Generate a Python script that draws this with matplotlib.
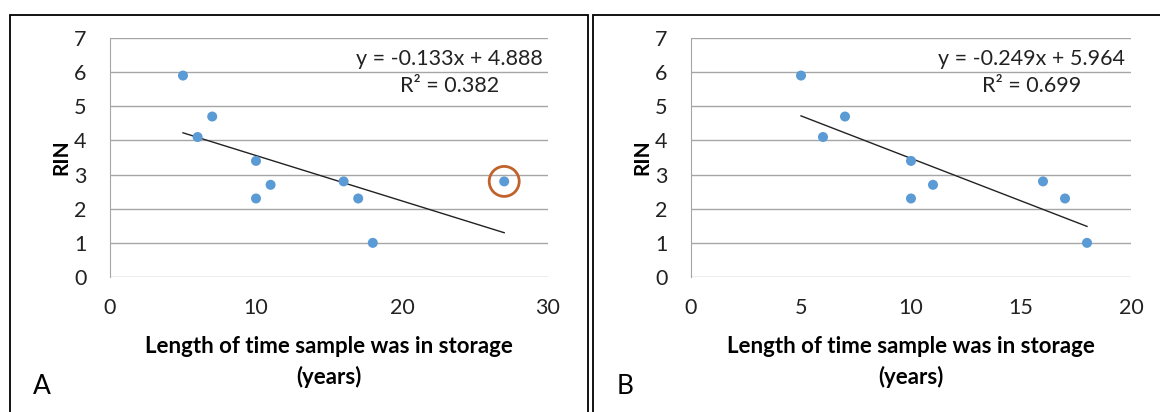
import numpy as np
import matplotlib
matplotlib.use("Agg")
import matplotlib.pyplot as plt
from matplotlib.patches import Rectangle, Ellipse

plt.rcParams["font.family"] = ["Lato", "DejaVu Sans"]

# ---------------- data ----------------
years = [5, 6, 7, 10, 10, 11, 16, 17, 18, 27]
rin = [5.9, 4.1, 4.7, 3.4, 2.3, 2.7, 2.8, 2.3, 1.0, 2.8]

years_b = years[:-1]
rin_b = rin[:-1]

slope_a, icpt_a, r2_a = -0.133, 4.888, 0.382
slope_b, icpt_b, r2_b = -0.249, 5.964, 0.699

outlier = (27, 2.8)

W, H = 1160, 412
fig = plt.figure(figsize=(W / 100, H / 100), dpi=100)

# panel frames
fig.patches.append(Rectangle((9.5 / W, -0.1), 578 / W, 1 - 14.5 / H + 0.1,
                             transform=fig.transFigure, fill=False,
                             edgecolor="black", lw=1.3))
fig.patches.append(Rectangle((592.5 / W, -0.1), 600 / W, 1 - 14.5 / H + 0.1,
                             transform=fig.transFigure, fill=False,
                             edgecolor="black", lw=1.3))

dot_color = "#5B9BD5"
grid_color = "#A6A6A6"


def make_panel(left, right, xs, ys, slope, icpt, r2, xmax, xstep, letter, letter_x):
    ax = fig.add_axes([left / W, (H - 277) / H, (right - left) / W, (277 - 38) / H])
    ax.set_xlim(0, xmax)
    ax.set_ylim(0, 7)
    ax.set_xticks(np.arange(0, xmax + 1, xstep))
    ax.set_yticks(range(0, 8))
    ax.tick_params(length=0, labelsize=15.5, colors="#222222")
    ax.tick_params(axis="y", pad=17)
    ax.tick_params(axis="x", pad=15)
    for y in range(0, 8):
        ax.axhline(y, color=grid_color, lw=1, zorder=1)
    for s in ["top", "right", "bottom"]:
        ax.spines[s].set_visible(False)
    ax.spines["left"].set_color(grid_color)

    ax.scatter(xs, ys, s=52, color=dot_color, zorder=3, edgecolors="none")
    x0, x1 = min(xs), max(xs)
    ax.plot([x0, x1], [icpt + slope * x0, icpt + slope * x1], color="#222222", lw=1, zorder=2)

    ax.text(0.775, 0.855, f"y = {slope:.3f}x + {icpt:.3f}\nR² = {r2:.3f}",
            transform=ax.transAxes, ha="center", va="center", multialignment="center",
            fontsize=15.5, linespacing=1.45, color="#222222")

    ax.set_ylabel("RIN", fontsize=15, fontweight="bold", labelpad=2)
    ax.set_xlabel("Length of time sample was in storage\n(years)", fontsize=16,
                  fontweight="bold", labelpad=13, linespacing=1.5)
    fig.text(letter_x / W, (H - 386) / H, letter, fontsize=19, ha="center", va="center")
    return ax


ax_a = make_panel(110, 548, years, rin, slope_a, icpt_a, r2_a, 30, 10, "A", 42)
ax_a.add_patch(Ellipse(outlier, width=30 * 30 / 438, height=7 * 30 / 239, fill=False,
                       edgecolor="#C0622B", lw=2, zorder=4))

ax_b = make_panel(691, 1131, years_b, rin_b, slope_b, icpt_b, r2_b, 20, 5, "B", 625)

fig.savefig("out.png", dpi=100)
